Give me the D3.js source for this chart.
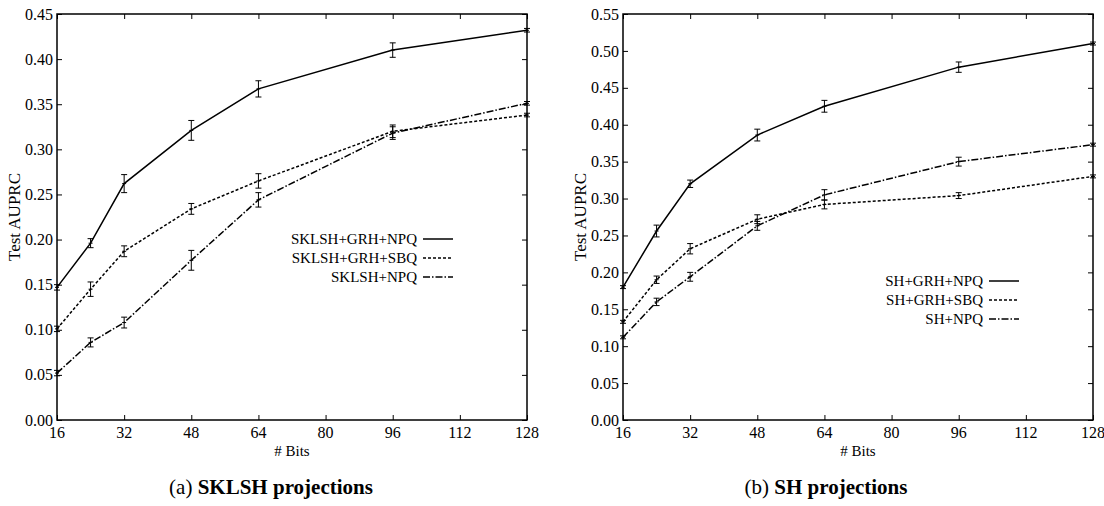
<!DOCTYPE html>
<html lang="en">
<head>
<meta charset="utf-8">
<title>Test AUPRC vs # Bits</title>
<style>
    body { margin: 0; background: #fff; }
    text { fill: #000; }
</style>
<script src="https://d3js.org/d3.v7.min.js"></script>
</head>
<body>
<svg id="chart" width="1104" height="506"></svg>
<script>

    // x values and tick labels
    var bits = [16, 24, 32, 48, 64, 96, 128];
    var bitTicks = [16, 32, 48, 64, 80, 96, 112, 128];

    // (a) SKLSH projections
    var sklshTicks = [0, 0.05, 0.10, 0.15, 0.20, 0.25, 0.30, 0.35, 0.40, 0.45];
    var sklshGrhNpq = [0.147, 0.196, 0.262, 0.321, 0.367, 0.410, 0.432];
    var sklshGrhNpqErr = [0.003, 0.005, 0.010, 0.011, 0.009, 0.008, 0.002];
    var sklshGrhSbq = [0.101, 0.145, 0.187, 0.234, 0.265, 0.320, 0.338];
    var sklshGrhSbqErr = [0.003, 0.008, 0.006, 0.006, 0.008, 0.007, 0.002];
    var sklshNpq = [0.052, 0.086, 0.108, 0.177, 0.244, 0.318, 0.351];
    var sklshNpqErr = [0.003, 0.005, 0.006, 0.011, 0.008, 0.007, 0.002];

    // (b) SH projections
    var shTicks = [0, 0.05, 0.10, 0.15, 0.20, 0.25, 0.30, 0.35, 0.40, 0.45, 0.50, 0.55];
    var shGrhNpq = [0.180, 0.256, 0.320, 0.386, 0.425, 0.478, 0.510];
    var shGrhNpqErr = [0.002, 0.008, 0.005, 0.008, 0.008, 0.007, 0.002];
    var shGrhSbq = [0.133, 0.190, 0.232, 0.272, 0.292, 0.304, 0.330];
    var shGrhSbqErr = [0.002, 0.005, 0.007, 0.006, 0.006, 0.004, 0.002];
    var shNpq = [0.112, 0.160, 0.194, 0.263, 0.305, 0.350, 0.373];
    var shNpqErr = [0.002, 0.005, 0.006, 0.006, 0.007, 0.006, 0.002];

    var dashes = ["none", "3,2", "7,2,1.5,2"];
    var serif = "Liberation Serif";

    var svg = d3.select("#chart");

    function drawPanel(p) {
        var x = d3.scaleLinear().domain([16, 128]).range([p.left, p.left + 470]);
        var y = d3.scaleLinear().domain([0, p.ymax]).range([420, 14]);
        var g = svg.append("g");

        // inward ticks on all four sides
        g.append("g").attr("transform", "translate(0,420)")
            .call(d3.axisBottom(x).tickValues(bitTicks).tickSize(-5).tickFormat(""));
        g.append("g").attr("transform", "translate(0,14)")
            .call(d3.axisTop(x).tickValues(bitTicks).tickSize(-5).tickFormat(""));
        g.append("g").attr("transform", "translate(" + p.left + ",0)")
            .call(d3.axisLeft(y).tickValues(p.ticks).tickSize(-5).tickFormat(""));
        g.append("g").attr("transform", "translate(" + (p.left + 470) + ",0)")
            .call(d3.axisRight(y).tickValues(p.ticks).tickSize(-5).tickFormat(""));
        g.selectAll(".domain").remove();
        g.selectAll(".tick line").attr("stroke", "#000").attr("stroke-width", 1);

        g.append("rect")
            .attr("x", x(16)).attr("y", y(p.ymax))
            .attr("width", x(128) - x(16)).attr("height", y(0) - y(p.ymax))
            .attr("fill", "none").attr("stroke", "#000").attr("stroke-width", 1.5);

        // tick labels
        g.selectAll(".ylab").data(p.ticks).enter().append("text")
            .attr("x", p.left - 4).attr("y", d => y(d)).attr("dy", "0.35em")
            .attr("text-anchor", "end").attr("font-family", serif).attr("font-size", 16)
            .text(d => d3.format(".2f")(d));
        g.selectAll(".xlab").data(bitTicks).enter().append("text")
            .attr("x", d => x(d)).attr("y", 438)
            .attr("text-anchor", "middle").attr("font-family", serif).attr("font-size", 16)
            .text(d => d);

        g.append("text").attr("x", x(72)).attr("y", 456)
            .attr("text-anchor", "middle").attr("font-family", serif).attr("font-size", 15)
            .text("# Bits");
        g.append("text")
            .attr("transform", "translate(" + (p.left - 37) + ",217) rotate(-90)")
            .attr("text-anchor", "middle").attr("font-family", serif).attr("font-size", 17)
            .text("Test AUPRC");

        var line = d3.line().x((d, i) => x(bits[i])).y(d => y(d));

        p.series.forEach(function (s, k) {
            g.append("path").datum(s.values)
                .attr("d", line).attr("fill", "none").attr("stroke", "#000")
                .attr("stroke-width", 1.5).attr("stroke-dasharray", dashes[k]);

            s.values.forEach(function (v, i) {
                var cx = x(bits[i]);
                var hi = y(v + s.err[i]), lo = y(v - s.err[i]);
                g.append("path")
                    .attr("d", "M" + cx + "," + hi + "V" + lo +
                        "M" + (cx - 3) + "," + hi + "H" + (cx + 3) +
                        "M" + (cx - 3) + "," + lo + "H" + (cx + 3) +
                        "M" + (cx - 2) + "," + y(v) + "H" + (cx + 2))
                    .attr("stroke", "#000").attr("stroke-width", 1).attr("fill", "none");
            });

            var ly = p.legendY + k * 19;
            g.append("text").attr("x", p.left + 360).attr("y", ly).attr("dy", "0.35em")
                .attr("text-anchor", "end").attr("font-family", serif).attr("font-size", 15)
                .text(s.name);
            g.append("line").attr("x1", p.left + 366).attr("x2", p.left + 396)
                .attr("y1", ly).attr("y2", ly)
                .attr("stroke", "#000").attr("stroke-width", 1.5)
                .attr("stroke-dasharray", dashes[k]);
        });

        var cap = svg.append("text").attr("x", p.capX).attr("y", 494)
            .attr("text-anchor", "middle").attr("font-family", serif).attr("font-size", 21);
        cap.append("tspan").text(p.capA + " ");
        cap.append("tspan").attr("font-weight", "bold").text(p.capB);
    }

    drawPanel({
        left: 57, ymax: 0.45, ticks: sklshTicks, legendY: 239,
        capX: 271, capA: "(a)", capB: "SKLSH projections",
        series: [
            {name: "SKLSH+GRH+NPQ", values: sklshGrhNpq, err: sklshGrhNpqErr},
            {name: "SKLSH+GRH+SBQ", values: sklshGrhSbq, err: sklshGrhSbqErr},
            {name: "SKLSH+NPQ", values: sklshNpq, err: sklshNpqErr}
        ]
    });

    drawPanel({
        left: 623, ymax: 0.55, ticks: shTicks, legendY: 281,
        capX: 826, capA: "(b)", capB: "SH projections",
        series: [
            {name: "SH+GRH+NPQ", values: shGrhNpq, err: shGrhNpqErr},
            {name: "SH+GRH+SBQ", values: shGrhSbq, err: shGrhSbqErr},
            {name: "SH+NPQ", values: shNpq, err: shNpqErr}
        ]
    });

</script>
</body>
</html>
